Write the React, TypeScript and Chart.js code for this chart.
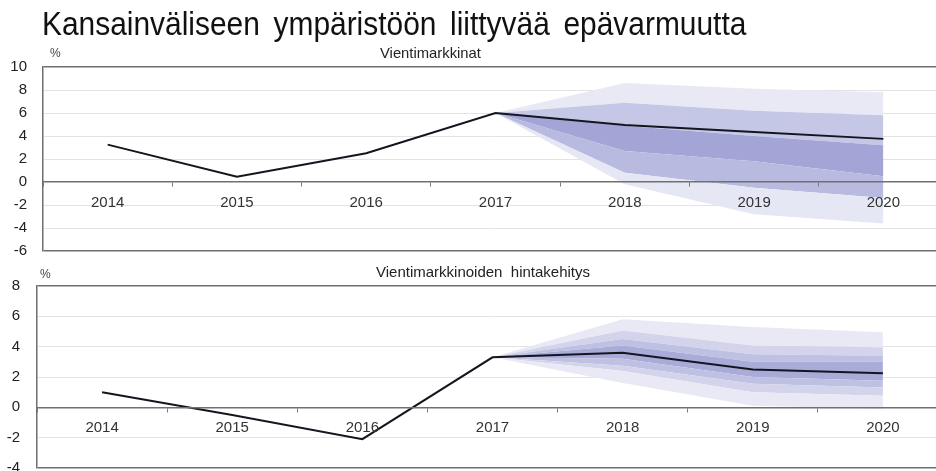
import React, { useEffect, useRef } from 'react';
import { Chart, registerables } from 'chart.js';

Chart.register(...registerables);

const FONT = '"Liberation Sans", Arial, Helvetica, sans-serif';

const years = ['2014', '2015', '2016', '2017', '2018', '2019', '2020'];

// Vientimarkkinat (export markets), %
const marketGrowth = [3.25, 0.45, 2.5, 6.0, 4.95, 4.35, 3.75];
// fan boundaries, bottom -> top
const marketBand0 = [null, null, null, 6.0, -0.2, -2.8, -3.6];
const marketBand1 = [null, null, null, 6.0, 0.8, -0.5, -1.4];
const marketBand2 = [null, null, null, 6.0, 2.7, 1.8, 0.5];
const marketBand3 = [null, null, null, 6.0, 4.9, 4.0, 3.2];
const marketBand4 = [null, null, null, 6.0, 6.9, 6.2, 5.8];
const marketBand5 = [null, null, null, 6.0, 8.6, 8.1, 7.8];
const marketBandColors = ['#e6e7f4', '#b8bae0', '#a2a5d6', '#c5c7e7', '#e9e9f5'];
const marketTicks = { min: -6, max: 10, step: 2 };

// Vientimarkkinoiden hintakehitys (export market prices), %
const priceGrowth = [1.0, -0.5, -2.1, 3.3, 3.6, 2.5, 2.25];
const priceBand0 = [null, null, null, 3.3, 1.6, 0.1, -0.1];
const priceBand1 = [null, null, null, 3.3, 2.4, 1.0, 0.76];
const priceBand2 = [null, null, null, 3.3, 2.75, 1.55, 1.3];
const priceBand3 = [null, null, null, 3.3, 3.2, 2.0, 1.75];
const priceBand4 = [null, null, null, 3.3, 4.07, 3.0, 3.0];
const priceBand5 = [null, null, null, 3.3, 4.5, 3.5, 3.4];
const priceBand6 = [null, null, null, 3.3, 5.07, 4.07, 3.96];
const priceBand7 = [null, null, null, 3.3, 5.8, 5.3, 4.95];
const priceBandColors = ['#e9e9f5', '#d3d4ec', '#bfc1e3', '#a9acd9', '#bfc1e3', '#d3d4ec', '#e9e9f5'];
const priceTicks = { min: -4, max: 8, step: 2 };

function buildConfig(
  line: number[],
  bands: (number | null)[][],
  colors: string[],
  range: { min: number; max: number; step: number },
  axisWidth: number,
  labelPad: number,
  padding: { top: number; bottom: number }
): any {
  const datasets: any[] = [
    {
      type: 'line',
      data: line,
      borderColor: '#15151f',
      borderWidth: 2,
      pointRadius: 0,
      tension: 0,
      fill: false,
    },
  ];
  bands.forEach((b, i) => {
    datasets.push({
      type: 'line',
      data: b,
      borderWidth: 0,
      borderColor: 'rgba(0,0,0,0)',
      pointRadius: 0,
      tension: 0,
      fill: i === 0 ? false : '-1',
      backgroundColor: i === 0 ? 'rgba(0,0,0,0)' : colors[i - 1],
    });
  });
  return {
    type: 'line',
    data: { labels: years, datasets },
    options: {
      animation: false,
      responsive: false,
      events: [],
      layout: { padding: { top: padding.top, bottom: padding.bottom, left: 0, right: 2 } },
      plugins: { legend: { display: false }, tooltip: { enabled: false }, title: { display: false } },
      scales: {
        x: {
          type: 'category',
          position: { y: 0 },
          offset: true,
          grid: {
            offset: true,
            drawOnChartArea: false,
            drawTicks: true,
            tickLength: 4,
            color: '#7a7a7a',
            z: 1,
          },
          border: { display: true, color: '#707070', width: 1.5, z: 1 },
          ticks: {
            color: '#333333',
            font: { family: FONT, size: 15 },
            padding: 8,
            maxRotation: 0,
            autoSkip: false,
            z: 1,
          },
        },
        y: {
          min: range.min,
          max: range.max,
          afterFit: (s: any) => {
            s.width = axisWidth;
          },
          grid: {
            drawTicks: false,
            color: (ctx: any) => {
              const v = ctx.tick && ctx.tick.value;
              if (v === range.min || v === range.max) return '#6f6f6f';
              if (v === 0) return 'rgba(0,0,0,0)';
              return '#e3e3e3';
            },
            lineWidth: (ctx: any) => {
              const v = ctx.tick && ctx.tick.value;
              return v === range.min || v === range.max ? 1.5 : 1;
            },
          },
          border: { display: true, color: '#6f6f6f', width: 1.5 },
          ticks: {
            stepSize: range.step,
            color: '#222222',
            font: { family: FONT, size: 15 },
            padding: labelPad,
          },
        },
      },
    },
  };
}

export default function App() {
  const topRef = useRef<HTMLCanvasElement>(null);
  const botRef = useRef<HTMLCanvasElement>(null);

  useEffect(() => {
    const c1 = new Chart(
      topRef.current as HTMLCanvasElement,
      buildConfig(
        marketGrowth,
        [marketBand0, marketBand1, marketBand2, marketBand3, marketBand4, marketBand5],
        marketBandColors,
        marketTicks,
        43,
        16,
        { top: 27, bottom: 11 }
      )
    );
    const c2 = new Chart(
      botRef.current as HTMLCanvasElement,
      buildConfig(
        priceGrowth,
        [priceBand0, priceBand1, priceBand2, priceBand3, priceBand4, priceBand5, priceBand6, priceBand7],
        priceBandColors,
        priceTicks,
        37,
        17,
        { top: 28, bottom: 16 }
      )
    );
    return () => {
      c1.destroy();
      c2.destroy();
    };
  }, []);

  const text: React.CSSProperties = { position: 'absolute', whiteSpace: 'pre', lineHeight: 1, color: '#222' };

  return (
    <div
      style={{
        position: 'fixed',
        left: 0,
        top: 0,
        width: 936,
        height: 471,
        overflow: 'hidden',
        background: '#ffffff',
        fontFamily: FONT,
      }}
    >
      <canvas ref={topRef} width={950} height={236} style={{ position: 'absolute', left: 0, top: 40 }} />
      <canvas ref={botRef} width={950} height={236} style={{ position: 'absolute', left: 0, top: 258 }} />
      <div
        style={{
          ...text,
          left: 42,
          top: 6,
          fontSize: 34,
          color: '#111',
          transform: 'scaleX(0.88)',
          transformOrigin: 'left top',
          wordSpacing: 6,
        }}
      >
        Kansainväliseen ympäristöön liittyvää epävarmuutta
      </div>
      <div style={{ ...text, left: 380, top: 46, fontSize: 14.8 }}>Vientimarkkinat</div>
      <div style={{ ...text, left: 50, top: 47, fontSize: 12, color: '#444' }}>%</div>
      <div style={{ ...text, left: 376, top: 264, fontSize: 15 }}>Vientimarkkinoiden  hintakehitys</div>
      <div style={{ ...text, left: 40, top: 268, fontSize: 12, color: '#444' }}>%</div>
    </div>
  );
}
